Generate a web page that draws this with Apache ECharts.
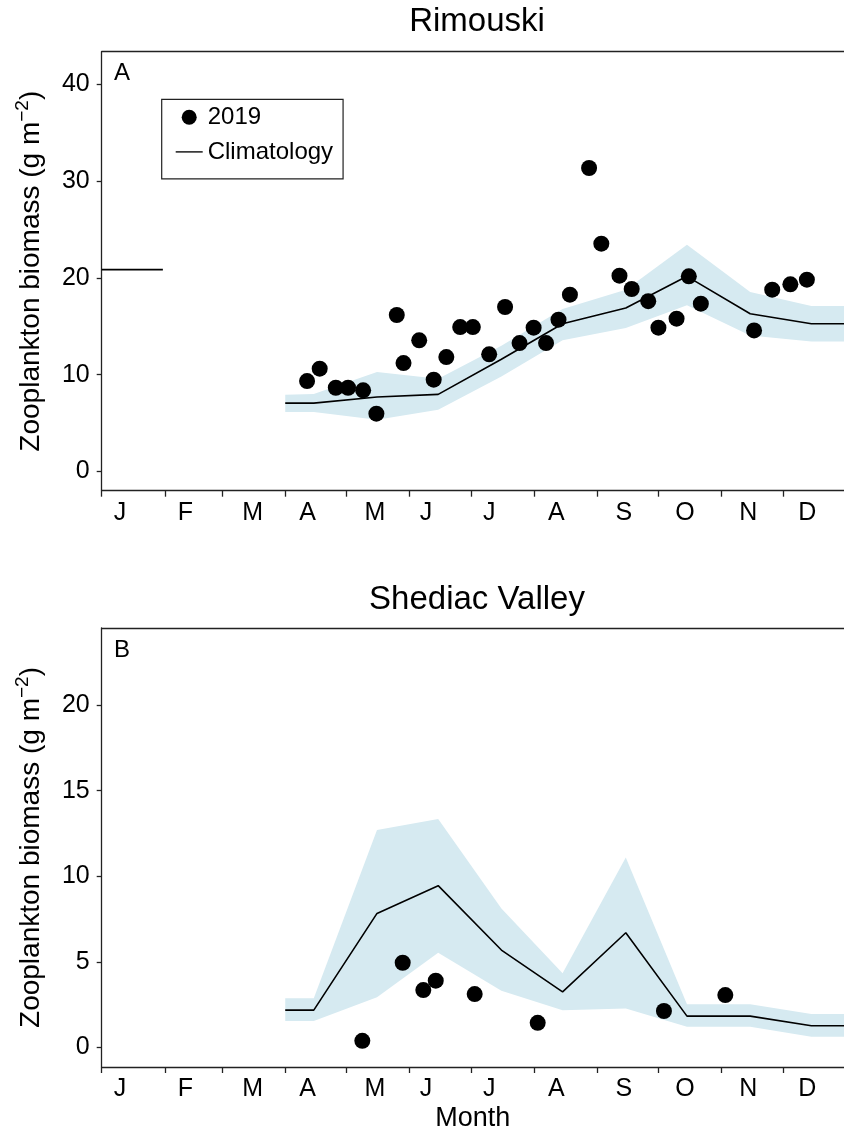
<!DOCTYPE html>
<html><head><meta charset="utf-8">
<script src="https://cdn.jsdelivr.net/npm/echarts@6/dist/echarts.min.js"></script>
<style>html,body{margin:0;padding:0;background:#fff}#c{width:844px;height:1137px}</style>
</head><body><div id="c"></div>
<script>
// ---- axis labels / ticks ----
const monthLetters = ['J','F','M','A','M','J','J','A','S','O','N','D'];
const monthStartDays = [1,32,60,91,121,152,182,213,244,274,305,335];
const monthLabelDays = [10,42,75,102,135,160,191,224,257,287,318,347];
const yTicksA = [0,10,20,30,40];
const yTicksB = [0,5,10,15,20];

// ---- Rimouski (panel A) ----
const daysA = [101.7,107.9,115.8,121.8,129.2,135.7,145.7,149,156.7,163.8,170,176.8,183,191,198.8,205.9,212.8,218.9,225,230.6,240,246,254.9,260.9,269,274,282.9,288.9,294.8,320.9,329.8,338.7,346.8];
const valsA = [9.34,10.62,8.65,8.65,8.38,5.97,16.17,11.2,13.55,9.48,11.82,14.92,14.92,12.1,17.0,13.27,14.86,13.27,15.69,18.27,31.37,23.55,20.24,18.86,17.6,14.86,15.79,20.17,17.34,14.58,18.79,19.34,19.82];
const climDays = [91,105,136,166,197,227,258,288,319,349,365];
const climA = [7.06,7.06,7.69,7.96,11.6,15.27,16.9,20.17,16.3,15.27,15.27];
const upperA = [7.93,8.0,10.27,9.58,13.0,16.8,18.79,23.44,18.54,17.1,17.1];
const lowerA = [6.13,6.13,5.35,6.38,9.8,13.55,14.82,17.17,14.06,13.44,13.44];
const janDaysA = [1,31];
const janClimA = [20.86,20.86];

// ---- Shediac Valley (panel B) ----
const daysB = [128.8,148.6,158.7,164.8,183.9,214.8,276.7,306.8];
const valsB = [0.39,4.95,3.35,3.90,3.12,1.44,2.13,3.06];
const climB = [2.18,2.18,7.83,9.45,5.69,3.25,6.70,1.83,1.83,1.27,1.27];
const upperB = [2.87,2.87,12.70,13.34,8.12,4.33,11.10,2.53,2.53,1.95,1.95];
const lowerB = [1.54,1.54,2.93,5.53,3.31,2.18,2.28,1.21,1.21,0.63,0.63];

const FONT = '"Liberation Sans", Arial, sans-serif';
const AX = '#222';
const BAND = '#d6eaf1';
const pairs = (xs, ys) => xs.map((x, i) => [x, ys[i]]);

function xAxes(gi) {
  return [{
    type: 'value', gridIndex: gi, min: 1, max: 365, position: 'bottom',
    axisLine: { show: true, onZero: false, lineStyle: { color: AX, width: 1.3 } },
    axisTick: { show: true, inside: false, length: 6, customValues: monthStartDays, lineStyle: { color: AX, width: 1.3 } },
    axisLabel: { show: true, margin: 10, customValues: monthLabelDays, fontSize: 25, fontFamily: FONT, color: '#000',
      formatter: v => monthLetters[monthLabelDays.indexOf(v)] },
    splitLine: { show: false },
    name: gi === 1 ? 'Month' : '', nameLocation: 'middle', nameGap: 38,
    nameTextStyle: { fontSize: 27, fontFamily: FONT, color: '#000' }
  }, {
    type: 'value', gridIndex: gi, min: 1, max: 365, position: 'top',
    axisLine: { show: true, onZero: false, lineStyle: { color: AX, width: 1.3 } },
    axisTick: { show: false }, axisLabel: { show: false }, splitLine: { show: false }
  }];
}
function yAxis(gi, min, max, ticks) {
  return {
    type: 'value', gridIndex: gi, min: min, max: max,
    axisLine: { show: true, onZero: false, lineStyle: { color: AX, width: 1.3 } },
    axisTick: { show: true, inside: false, length: 5, customValues: ticks, lineStyle: { color: AX, width: 1.3 } },
    axisLabel: { show: true, margin: 12, customValues: ticks, fontSize: 25, fontFamily: FONT, color: '#000' },
    splitLine: { show: false },
    name: '{m|Zooplankton biomass (g m}{s|−2}{m|)}',
    nameLocation: 'middle', nameGap: 52, nameRotate: 90,
    nameTextStyle: { fontFamily: FONT, color: '#000',
      rich: { m: { fontSize: 28, fontFamily: FONT, color: '#000', lineHeight: 36 },
              s: { fontSize: 19, fontFamily: FONT, color: '#000', verticalAlign: 'top', lineHeight: 19 } } }
  };
}
function bandSeries(gi, up, lo) {
  const data = climDays.map((d, i) => [d, lo[i], up[i]]);
  return {
    type: 'custom', xAxisIndex: gi * 2, yAxisIndex: gi, silent: true, z: 1,
    data: data,
    encode: { x: 0, y: [1, 2] },
    renderItem: function (params, api) {
      if (params.dataIndex !== 0) return null;
      const top = [], bot = [];
      for (let i = 0; i < data.length; i++) {
        top.push(api.coord([data[i][0], data[i][2]]));
        bot.unshift(api.coord([data[i][0], data[i][1]]));
      }
      return { type: 'polygon', shape: { points: top.concat(bot) }, style: { fill: BAND } };
    }
  };
}
function panelSeries(gi, clim, up, lo, days, vals) {
  return [
    bandSeries(gi, up, lo),
    { name: 'Climatology', type: 'line', xAxisIndex: gi * 2, yAxisIndex: gi, data: pairs(climDays, clim),
      symbol: 'none', itemStyle: { color: '#000' }, lineStyle: { color: '#000', width: 1.6 }, z: 3 },
    { name: '2019', type: 'scatter', xAxisIndex: gi * 2, yAxisIndex: gi, data: pairs(days, vals),
      symbol: 'circle', symbolSize: 16, itemStyle: { color: '#000', opacity: 1 }, z: 4 }
  ];
}

const chart = echarts.init(document.getElementById('c'), null, { renderer: 'canvas' });
const series = [
  ...panelSeries(0, climA, upperA, lowerA, daysA, valsA),
  { name: 'Climatology', type: 'line', xAxisIndex: 0, yAxisIndex: 0, data: pairs(janDaysA, janClimA),
    symbol: 'none', itemStyle: { color: '#000' }, lineStyle: { color: '#000', width: 1.6 }, z: 3 },
  ...panelSeries(1, climB, upperB, lowerB, daysB, valsB)
];

chart.setOption({
  animation: false,
  backgroundColor: '#fff',
  grid: [
    { left: 101.7, top: 51.7, width: 750.2, height: 439 },
    { left: 101.7, top: 628, width: 750.2, height: 439 }
  ],
  xAxis: [...xAxes(0), ...xAxes(1)],
  yAxis: [yAxis(0, -2, 43.4, yTicksA), yAxis(1, -1.14, 24.5, yTicksB)],
  legend: {
    left: 161.7, top: 99.3, orient: 'vertical', borderColor: AX, borderWidth: 1.2,
    padding: [6, 10, 15, 14], itemGap: 10.6, itemWidth: 27, itemHeight: 15,
    textStyle: { fontSize: 24, fontFamily: FONT, color: '#000', lineHeight: 24 },
    data: [
      { name: '2019', icon: 'circle', itemStyle: { color: '#000', opacity: 1 } },
      { name: 'Climatology', icon: 'path://M0,0H100V5H0Z', itemStyle: { color: '#000' } }
    ]
  },
  graphic: [
    { type: 'text', x: 477, y: 22, style: { text: 'Rimouski', fontSize: 33, fontFamily: FONT, fill: '#000', align: 'center', verticalAlign: 'middle' } },
    { type: 'text', x: 477, y: 600, style: { text: 'Shediac Valley', fontSize: 33, fontFamily: FONT, fill: '#000', align: 'center', verticalAlign: 'middle' } },
    { type: 'text', x: 114, y: 73, style: { text: 'A', fontSize: 24, fontFamily: FONT, fill: '#000', align: 'left', verticalAlign: 'middle' } },
    { type: 'text', x: 114, y: 650, style: { text: 'B', fontSize: 24, fontFamily: FONT, fill: '#000', align: 'left', verticalAlign: 'middle' } }
  ],
  series: series
});
</script>
</body></html>
